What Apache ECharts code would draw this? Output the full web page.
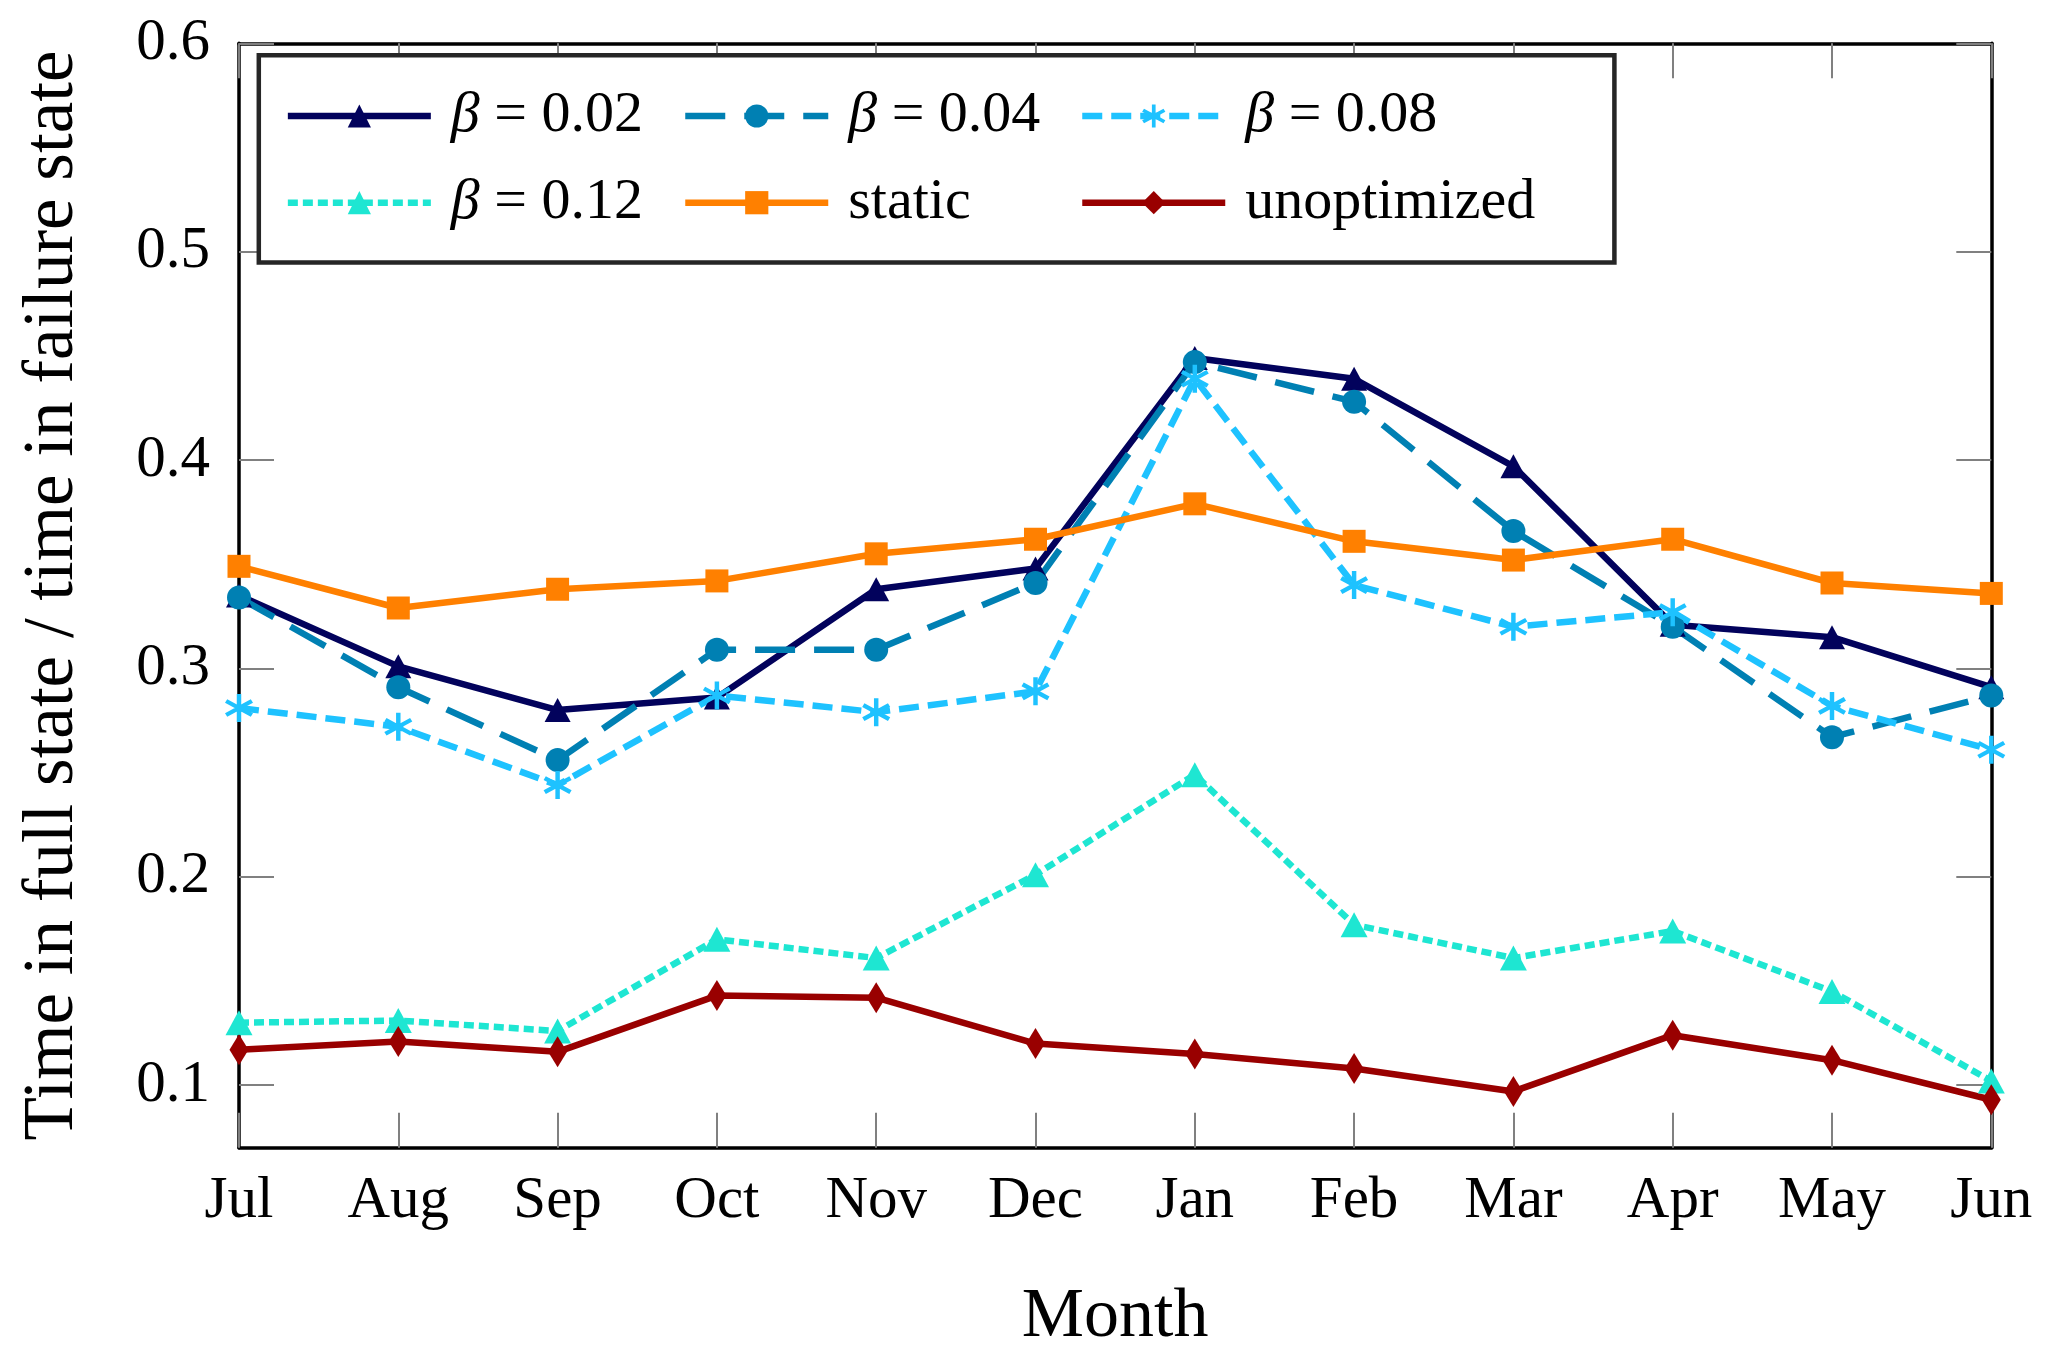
<!DOCTYPE html>
<html>
<head>
<meta charset="utf-8">
<script src="https://cdn.jsdelivr.net/npm/echarts@6/dist/echarts.min.js"></script>
<style>
html,body{margin:0;padding:0;background:#fff;}
#chart{width:2055px;height:1360px;}
</style>
</head>
<body>
<div id="chart"></div>
<script>
const months = ['Jul','Aug','Sep','Oct','Nov','Dec','Jan','Feb','Mar','Apr','May','Jun'];
const yTicks = [0.1, 0.2, 0.3, 0.4, 0.5, 0.6];
const beta002 = [0.335,0.301,0.280,0.286,0.338,0.348,0.449,0.439,0.397,0.321,0.315,0.291];
const beta004 = [0.334,0.291,0.256,0.309,0.309,0.341,0.447,0.428,0.366,0.320,0.267,0.287];
const beta008 = [0.281,0.272,0.244,0.287,0.279,0.289,0.439,0.340,0.320,0.327,0.282,0.261];
const beta012 = [0.130,0.131,0.126,0.170,0.161,0.201,0.249,0.177,0.161,0.174,0.145,0.102];
const staticVals = [0.349,0.329,0.338,0.342,0.355,0.362,0.379,0.361,0.352,0.362,0.341,0.336];
const unoptimized = [0.117,0.121,0.116,0.143,0.142,0.120,0.115,0.108,0.097,0.124,0.112,0.093];

const FONT = '"Liberation Serif", "DejaVu Serif", serif';
const ASTERISK = 'path://M0.85,0 L1.15,0 L1.15,2 L0.85,2 Z M1.941,0.630 L0.209,1.630 L0.059,1.370 L1.791,0.370 Z M0.209,0.370 L1.941,1.370 L1.791,1.630 L0.059,0.630 Z';
const LW = 6.5;

function mk(name, data, color, lineType, symbol, symbolSize) {
  return {
    name: name, type: 'line', data: data,
    xAxisIndex: 0, yAxisIndex: 0,
    symbol: symbol, symbolSize: symbolSize, showAllSymbol: true,
    lineStyle: {color: color, width: LW, type: lineType, cap: 'butt'},
    itemStyle: {color: color},
    emphasis: {disabled: true},
    animation: false
  };
}

const series = [
  mk('β = 0.02', beta002, '#02025c', 'solid', 'triangle', [26, 24]),
  mk('β = 0.04', beta004, '#0080b3', [40, 19], 'circle', 24),
  mk('β = 0.08', beta008, '#1ec2ff', [20, 9], ASTERISK, 28),
  mk('β = 0.12', beta012, '#1ee6d2', [10, 5], 'triangle', [27, 25]),
  mk('static', staticVals, '#ff8000', 'solid', 'rect', 23),
  mk('unoptimized', unoptimized, '#990000', 'solid', 'diamond', [19, 31])
];

const legendText = {
  fontFamily: FONT, fontSize: 58, color: '#000', lineHeight: 60,
  padding: [0, 0, 0, 15],
  rich: { i: {fontFamily: FONT, fontSize: 58, fontStyle: 'italic', color: '#000', lineHeight: 60} }
};
function legendAt(left, names) {
  return {
    data: names, orient: 'vertical', left: left, top: 86,
    itemWidth: 143, itemHeight: 29, itemGap: 26.7,
    padding: 0, selectedMode: false, z: 10,
    lineStyle: {width: LW},
    textStyle: legendText,
    formatter: function (n) { return n.replace('β', '{i|β}'); }
  };
}

const tickStyle = {show: true, inside: true, length: 35, lineStyle: {color: '#808080', width: 2}};
const axisLineStyle = {show: true, onZero: false, lineStyle: {color: '#000', width: 3.5}};

const option = {
  animation: false,
  backgroundColor: '#fff',
  grid: {left: 239, right: 63.7, top: 43.3, bottom: 212.3, containLabel: false},
  xAxis: [
    {
      type: 'category', data: months, boundaryGap: false, position: 'bottom',
      name: 'Month', nameLocation: 'middle', nameGap: 135,
      nameTextStyle: {fontFamily: FONT, fontSize: 70, color: '#000'},
      axisLine: axisLineStyle,
      axisTick: Object.assign({interval: 0}, tickStyle),
      axisLabel: {interval: 0, margin: 24, fontFamily: FONT, fontSize: 59, color: '#000'},
      splitLine: {show: false}
    },
    {
      type: 'category', data: months, boundaryGap: false, position: 'top',
      axisLine: axisLineStyle,
      axisTick: Object.assign({interval: 0}, tickStyle),
      axisLabel: {show: false},
      splitLine: {show: false}
    }
  ],
  yAxis: [
    {
      type: 'value', min: 0.07, max: 0.6, position: 'left',
      name: 'Time in full state / time in failure state',
      nameLocation: 'middle', nameGap: 150,
      nameTextStyle: {fontFamily: FONT, fontSize: 71, color: '#000'},
      axisLine: axisLineStyle,
      axisTick: Object.assign({customValues: yTicks}, tickStyle),
      axisLabel: {customValues: yTicks, margin: 29, fontFamily: FONT, fontSize: 59, color: '#000',
        formatter: function (v) { return String(Math.round(v * 10) / 10); }},
      splitLine: {show: false}
    },
    {
      type: 'value', min: 0.07, max: 0.6, position: 'right',
      axisLine: axisLineStyle,
      axisTick: Object.assign({customValues: yTicks}, tickStyle),
      axisLabel: {show: false, customValues: yTicks},
      splitLine: {show: false}
    }
  ],
  legend: [
    legendAt(284.6, ['β = 0.02', 'β = 0.12']),
    legendAt(682, ['β = 0.04', 'static']),
    legendAt(1079, ['β = 0.08', 'unoptimized'])
  ],
  graphic: [{
    type: 'rect', z: 5,
    shape: {x: 258.8, y: 55.3, width: 1355.6, height: 207.2},
    style: {fill: '#fff', stroke: '#262626', lineWidth: 4.5}
  }],
  series: series
};

const chart = echarts.init(document.getElementById('chart'), null, {renderer: 'canvas'});
chart.setOption(option);
</script>
</body>
</html>
